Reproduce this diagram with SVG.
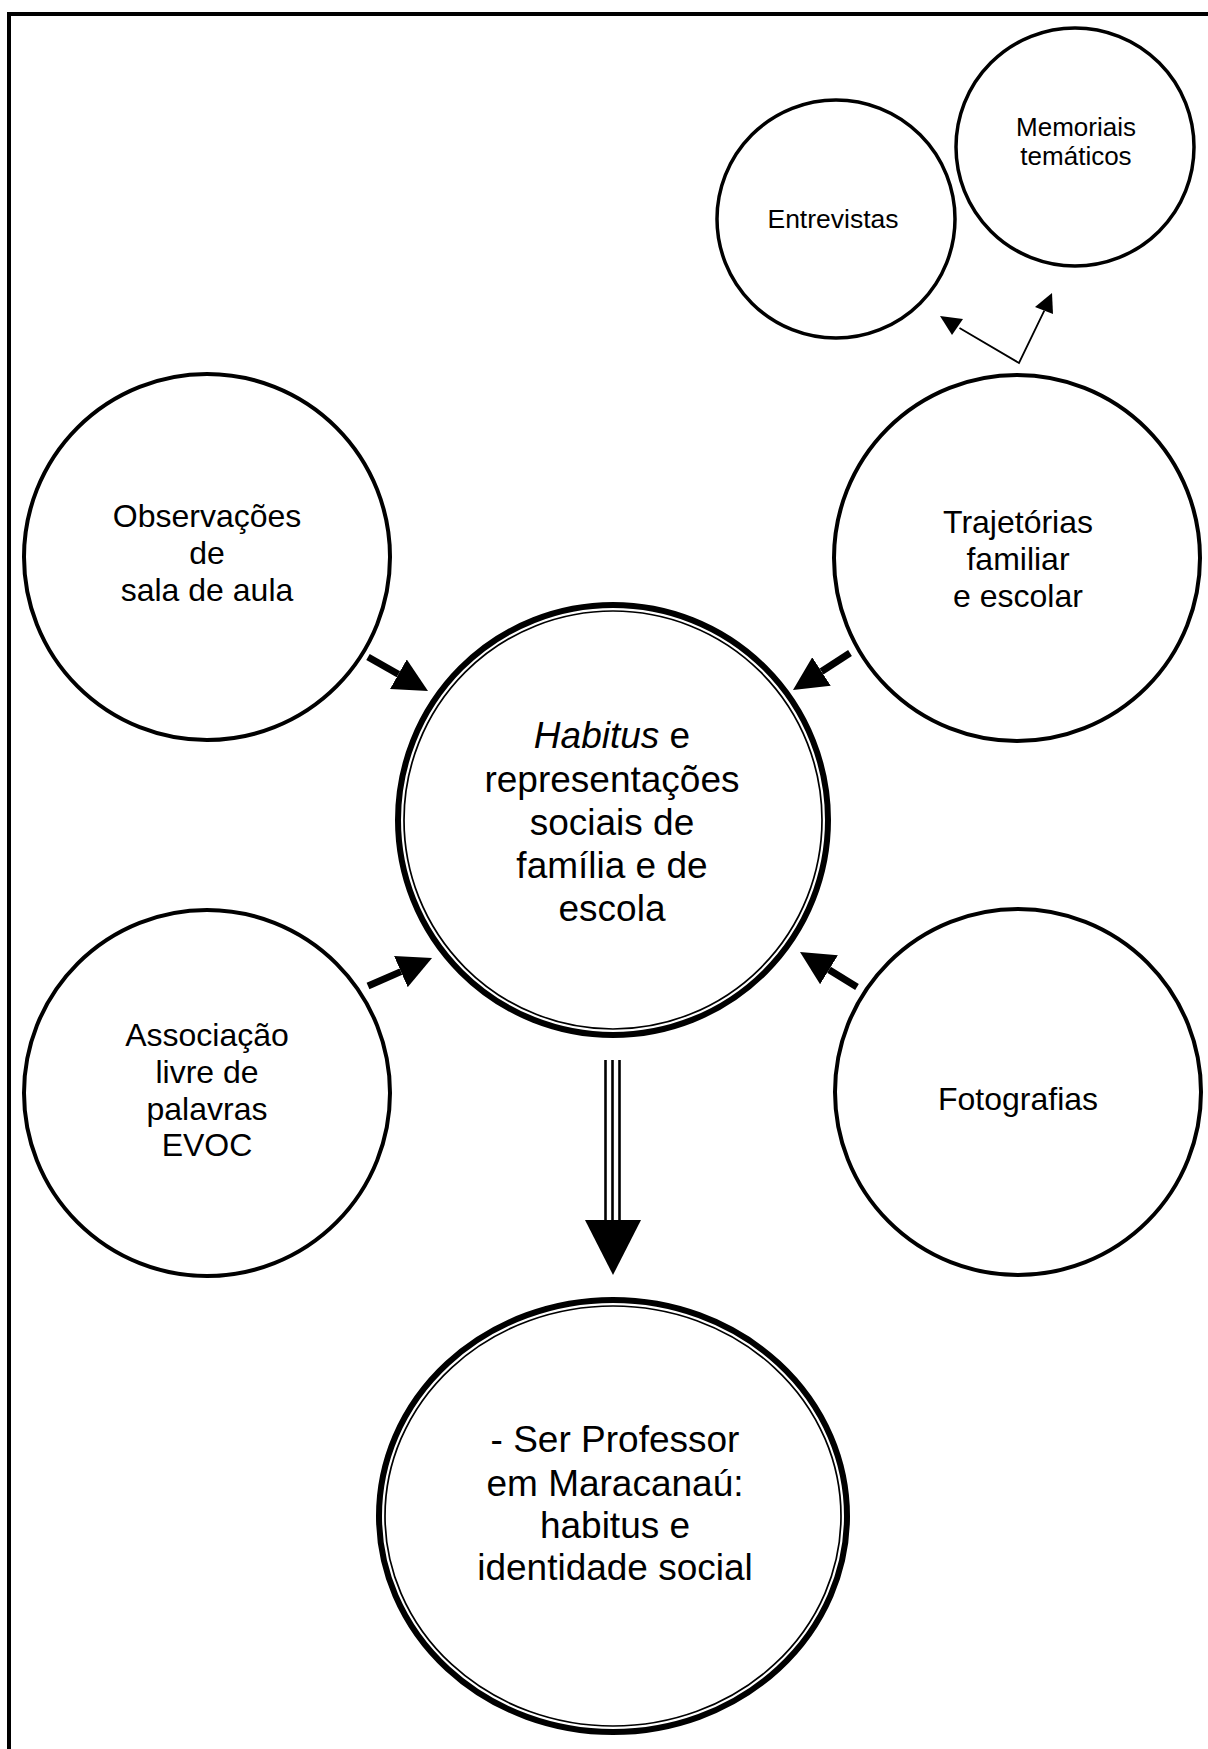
<svg xmlns="http://www.w3.org/2000/svg" width="1208" height="1749" viewBox="0 0 1208 1749">
  <style>
    .node { fill: #fff; stroke: #000; stroke-width: 4; }
    .small { fill: #fff; stroke: #000; stroke-width: 3.5; }
    .ring { fill: none; stroke: #000; stroke-width: 6; }
    .ring-in { fill: none; stroke: #000; stroke-width: 1.7; }
    .lbl { font-family: "Liberation Sans", Arial, sans-serif; fill: #000; text-anchor: middle; }
    .thick { stroke: #000; stroke-width: 7; fill: none; }
    .thin { stroke: #000; stroke-width: 1.8; fill: none; }
  </style>
  <defs>
    <marker id="head-big" markerUnits="userSpaceOnUse" viewBox="0 -17 34 34" markerWidth="34" markerHeight="34" refX="0" refY="0" orient="auto">
      <path d="M0,-17 L34,0 L0,17 Z" fill="#000"/>
    </marker>
  </defs>

  <rect width="1208" height="1749" fill="#fff"/>
  <!-- page frame (open at the bottom and right) -->
  <path d="M9,1749 L9,14 L1208,14" fill="none" stroke="#000" stroke-width="4"/>

  <g id="entrevistas">
    <circle class="small" cx="836" cy="219" r="119"/>
    <text class="lbl" x="833" y="228" font-size="26.5">Entrevistas</text>
  </g>

  <g id="memoriais">
    <circle class="small" cx="1075" cy="147" r="119"/>
    <text class="lbl" x="1076" y="136" font-size="26">Memoriais</text>
    <text class="lbl" x="1076" y="165" font-size="26">temáticos</text>
  </g>

  <g id="observacoes">
    <circle class="node" cx="207" cy="557" r="183"/>
    <text class="lbl" x="207" y="527" font-size="32">Observações</text>
    <text class="lbl" x="207" y="564" font-size="32">de</text>
    <text class="lbl" x="207" y="601" font-size="32">sala de aula</text>
  </g>

  <g id="trajetorias">
    <circle class="node" cx="1017" cy="558" r="183"/>
    <text class="lbl" x="1018" y="533" font-size="32">Trajetórias</text>
    <text class="lbl" x="1018" y="570" font-size="32">familiar</text>
    <text class="lbl" x="1018" y="607" font-size="32">e escolar</text>
  </g>

  <g id="associacao">
    <circle class="node" cx="207" cy="1093" r="183"/>
    <text class="lbl" x="207" y="1046" font-size="32">Associação</text>
    <text class="lbl" x="207" y="1083" font-size="32">livre de</text>
    <text class="lbl" x="207" y="1120" font-size="32">palavras</text>
    <text class="lbl" x="207" y="1156" font-size="32">EVOC</text>
  </g>

  <g id="fotografias">
    <circle class="node" cx="1018" cy="1092" r="183"/>
    <text class="lbl" x="1018" y="1110" font-size="32">Fotografias</text>
  </g>

  <g id="habitus">
    <circle class="ring" cx="613" cy="820" r="215"/>
    <circle class="ring-in" cx="613" cy="820" r="209"/>
    <text class="lbl" x="612" y="748" font-size="37"><tspan font-style="italic">Habitus</tspan> e</text>
    <text class="lbl" x="612" y="792" font-size="37">representações</text>
    <text class="lbl" x="612" y="835" font-size="37">sociais de</text>
    <text class="lbl" x="612" y="878" font-size="37">família e de</text>
    <text class="lbl" x="612" y="921" font-size="37">escola</text>
  </g>

  <g id="ser-professor">
    <ellipse class="ring" cx="613" cy="1516" rx="234" ry="216"/>
    <ellipse class="ring-in" cx="613" cy="1516" rx="228" ry="210"/>
    <text class="lbl" x="615" y="1452" font-size="37">- Ser Professor</text>
    <text class="lbl" x="615" y="1496" font-size="37">em Maracanaú:</text>
    <text class="lbl" x="615" y="1538" font-size="37">habitus e</text>
    <text class="lbl" x="615" y="1580" font-size="37">identidade social</text>
  </g>

  <g id="connectors">
    <!-- split from Trajetórias towards the two sources -->
    <polyline class="thin" points="959.5,328 1019,363 1044.3,310.7"/>
    <path d="M940,316 L952,335 L963,319 Z" fill="#000"/>
    <path d="M1052,293 L1035,307 L1053,314 Z" fill="#000"/>

    <!-- inputs to the central node -->
    <line class="thick" x1="368" y1="657" x2="398.4" y2="674.2" marker-end="url(#head-big)"/>
    <line class="thick" x1="850" y1="653" x2="821.5" y2="671.5" marker-end="url(#head-big)"/>
    <line class="thick" x1="368" y1="986" x2="400.9" y2="971.6" marker-end="url(#head-big)"/>
    <line class="thick" x1="857" y1="987" x2="829" y2="969.8" marker-end="url(#head-big)"/>

    <!-- triple-line arrow down to the result -->
    <g stroke="#000" stroke-width="2.6">
      <line x1="605.5" y1="1060" x2="605.5" y2="1221"/>
      <line x1="612.5" y1="1060" x2="612.5" y2="1221"/>
      <line x1="619.5" y1="1060" x2="619.5" y2="1221"/>
    </g>
    <path d="M585,1220 L641,1220 L613,1275 Z" fill="#000"/>
  </g>
</svg>
